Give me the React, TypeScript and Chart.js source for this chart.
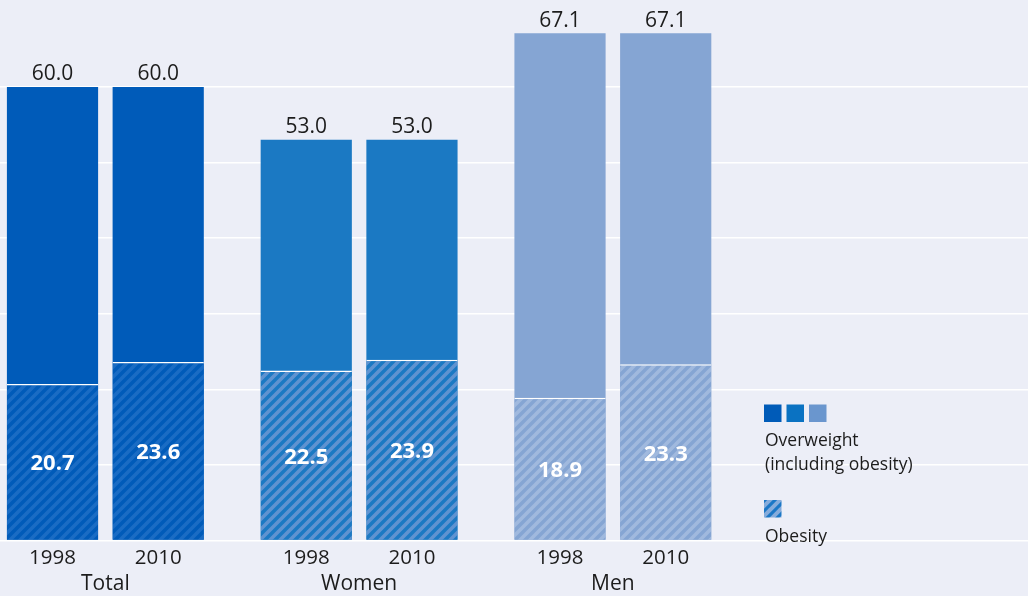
import React, { useEffect, useRef } from "react";
import { Chart, registerables } from "chart.js";

Chart.register(...registerables);

const groups = ["Total", "Women", "Men"];
const years = ["1998", "2010"];
const overweight1998 = [60.0, 53.0, 67.1];
const overweight2010 = [60.0, 53.0, 67.1];
const obesity1998 = [20.7, 22.5, 18.9];
const obesity2010 = [23.6, 23.9, 23.3];
const yTicks = [0, 10, 20, 30, 40, 50, 60];
const legendOverweight = ["Overweight", "(including obesity)"];
const legendObesity = "Obesity";

const BG = "#eceef7";
const BAR_COLORS = ["#005bb9", "#1b79c3", "#85a5d3"];
const STRIPE_COLORS = ["#1a6cc4", "#5f93d0", "#a0b9de"];
const LEGEND_SQUARES = ["#005bb8", "#0a72c2", "#6a96ce"];
const FONT = '"Open Sans", "Noto Sans", sans-serif';

function makePattern(base: string, stripe: string, width = 3.6) {
  const p = 10;
  const c = document.createElement("canvas");
  c.width = p;
  c.height = p;
  const g = c.getContext("2d")!;
  g.fillStyle = base;
  g.fillRect(0, 0, p, p);
  g.strokeStyle = stripe;
  g.lineWidth = width;
  g.lineCap = "square";
  for (let k = -1; k <= 1; k++) {
    g.beginPath();
    g.moveTo(k * p, p);
    g.lineTo(k * p + p, 0);
    g.stroke();
  }
  return g.createPattern(c, "repeat")!;
}

export default function App() {
  const ref = useRef<HTMLCanvasElement | null>(null);

  useEffect(() => {
    if (!ref.current) return;
    const patterns = BAR_COLORS.map((b, i) => makePattern(b, STRIPE_COLORS[i]));
    const legendPattern = makePattern("#1b77c6", "#86acdb", 4);

    const toPts = (arr: number[]) => arr.map((v, i) => ({ x: i, y: v }));

    const plugin = {
      id: "customDraw",
      beforeDraw(chart: any) {
        const ctx = chart.ctx;
        ctx.save();
        ctx.fillStyle = BG;
        ctx.fillRect(0, 0, chart.width, chart.height);
        ctx.restore();
      },
      afterDatasetsDraw(chart: any) {
        const ctx = chart.ctx;
        const bottom = chart.chartArea.bottom;
        ctx.save();
        ctx.textAlign = "center";
        ctx.textBaseline = "alphabetic";
        chart.data.datasets.forEach((ds: any, di: number) => {
          const meta = chart.getDatasetMeta(di);
          meta.data.forEach((bar: any, i: number) => {
            const v = ds.data[i].y as number;
            if (ds.kind === "overweight") {
              ctx.fillStyle = "#1c1c1c";
              ctx.font = `21px ${FONT}`;
              ctx.fillText(v.toFixed(1), bar.x, bar.y - 6.5);
              ctx.font = `20.5px ${FONT}`;
              ctx.fillText(ds.year, bar.x, bottom + 23.5);
            } else {
              ctx.fillStyle = "#ffffff";
              ctx.font = `bold 22px ${FONT}`;
              ctx.fillText(v.toFixed(1), bar.x, (bar.y + bar.base) / 2 + 8.5);
            }
          });
        });
        const xs = chart.scales.x;
        ctx.fillStyle = "#1c1c1c";
        ctx.font = `21px ${FONT}`;
        groups.forEach((g, i) => {
          ctx.fillText(g, xs.getPixelForValue(i), bottom + 49.5);
        });

        // legend
        const lx = 764;
        LEGEND_SQUARES.forEach((c, i) => {
          ctx.fillStyle = c;
          ctx.fillRect(lx + i * 22.5, 404.5, 17.5, 17.5);
        });
        ctx.textAlign = "left";
        ctx.fillStyle = "#1c1c1c";
        ctx.font = `17.5px ${FONT}`;
        ctx.fillText(legendOverweight[0], lx + 1, 446);
        ctx.fillText(legendOverweight[1], lx + 1, 470);
        ctx.fillStyle = legendPattern;
        ctx.fillRect(lx, 500, 17.5, 17.5);
        ctx.fillStyle = "#1c1c1c";
        ctx.fillText(legendObesity, lx + 1, 542);
        ctx.restore();
      },
    };

    const chart = new Chart(ref.current, {
      type: "bar",
      data: {
        datasets: [
          {
            kind: "obesity",
            year: years[0],
            label: "Obesity " + years[0],
            stack: years[0],
            order: 0,
            data: toPts(obesity1998),
            backgroundColor: patterns,
            borderColor: "#ffffff",
            borderWidth: { top: 1.5, left: 0, right: 0, bottom: 0 },
            borderSkipped: false,
          },
          {
            kind: "obesity",
            year: years[1],
            label: "Obesity " + years[1],
            stack: years[1],
            order: 0,
            data: toPts(obesity2010),
            backgroundColor: patterns,
            borderColor: "#ffffff",
            borderWidth: { top: 1.5, left: 0, right: 0, bottom: 0 },
            borderSkipped: false,
          },
          {
            kind: "overweight",
            year: years[0],
            label: "Overweight " + years[0],
            stack: years[0],
            order: 1,
            data: toPts(overweight1998),
            backgroundColor: BAR_COLORS,
          },
          {
            kind: "overweight",
            year: years[1],
            label: "Overweight " + years[1],
            stack: years[1],
            order: 1,
            data: toPts(overweight2010),
            backgroundColor: BAR_COLORS,
          },
        ] as any,
      },
      options: {
        animation: false,
        responsive: true,
        maintainAspectRatio: false,
        layout: { padding: 0 },
        categoryPercentage: 0.8331,
        barPercentage: 0.8628,
        plugins: { legend: { display: false }, tooltip: { enabled: false } },
        scales: {
          x: {
            type: "linear",
            offset: false,
            min: -0.4152,
            max: 3.636,
            afterBuildTicks: (s: any) => {
              s.ticks = groups.map((_, i) => ({ value: i }));
            },
            afterFit: (s: any) => {
              s.height = 55.5;
            },
            ticks: { display: false },
            grid: { display: false, drawTicks: false, offset: false },
            border: { display: false },
          },
          y: {
            stacked: false,
            min: 0,
            max: 71.5,
            afterBuildTicks: (s: any) => {
              s.ticks = yTicks.map((v) => ({ value: v }));
            },
            afterFit: (s: any) => {
              s.width = 0;
            },
            ticks: { display: false },
            grid: { color: "#ffffff", lineWidth: 1.5, drawTicks: false },
            border: { display: false },
          },
        },
      } as any,
      plugins: [plugin],
    });
    return () => chart.destroy();
  }, []);

  return (
    <div style={{ position: "fixed", left: 0, top: 0, width: 1028, height: 596, background: BG }}>
      <canvas ref={ref} />
    </div>
  );
}
